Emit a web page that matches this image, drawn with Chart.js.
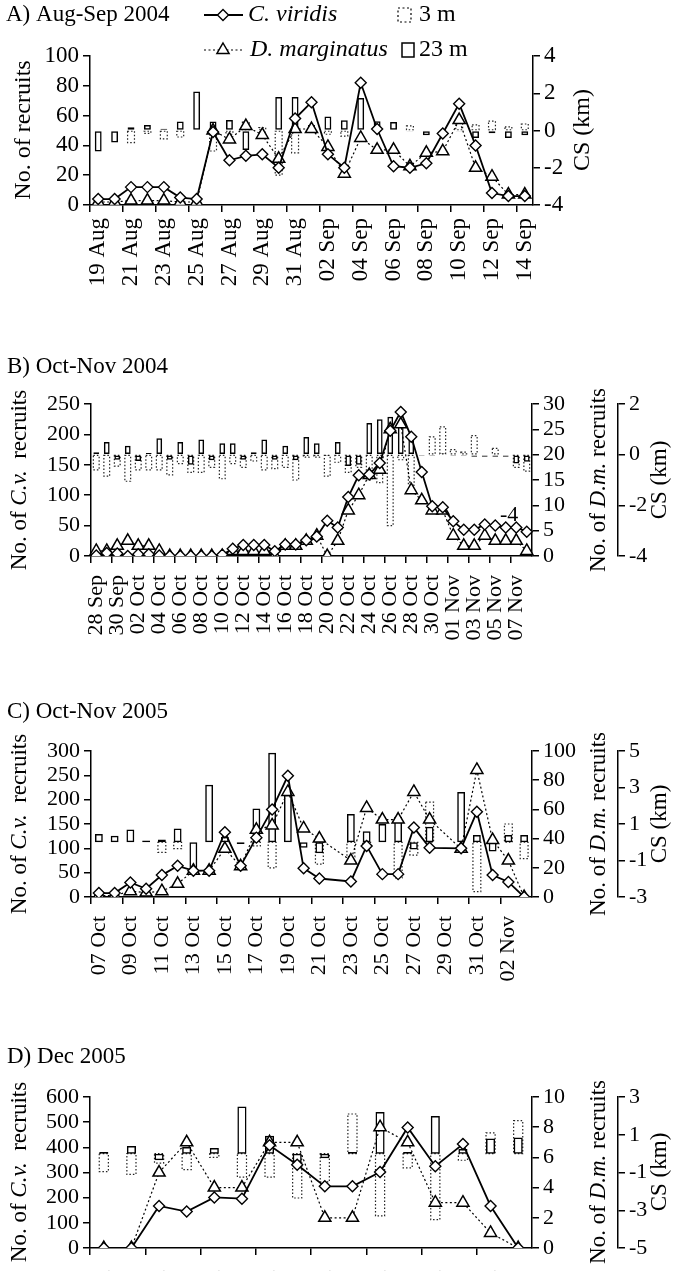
<!DOCTYPE html>
<html lang="en">
<head>
<meta charset="UTF-8">
<title>Recruitment and cross-shelf transport</title>
<script src="https://cdn.jsdelivr.net/npm/chart.js@4.4.0/dist/chart.umd.min.js"></script>
<style>
  html, body { margin: 0; padding: 0; background: #fff; overflow: hidden; }
  canvas { position: absolute; left: 0; }
</style>
</head>
<body>
<canvas id="panelA" style="top:0px" width="675" height="300"></canvas>
<canvas id="panelB" style="top:330px" width="675" height="310"></canvas>
<canvas id="panelC" style="top:680px" width="675" height="320"></canvas>
<canvas id="panelD" style="top:1030px" width="675" height="300"></canvas>
<script>
const SERIF = "'Liberation Serif', 'Times New Roman', serif";
Chart.defaults.font.family = SERIF;
Chart.defaults.font.size = 22;
Chart.defaults.color = '#000';
Chart.defaults.animation = false;

// ---- A) Aug-Sep 2004 ----
const aDates = ['19 Aug','20 Aug','21 Aug','22 Aug','23 Aug','24 Aug','25 Aug','26 Aug','27 Aug','28 Aug',
  '29 Aug','30 Aug','31 Aug','01 Sep','02 Sep','03 Sep','04 Sep','05 Sep','06 Sep','07 Sep','08 Sep',
  '09 Sep','10 Sep','11 Sep','12 Sep','13 Sep','14 Sep'];
const aViridis = [4,4,12,12,12,5,4,49,30,33,34,25,58,69,34,25,82,51,26,25,28,48,68,40,8,6,6];
const aMarginatus = [2,2,3,3,3,2,2,50,44,53,47,31,51,51,39,21,45,37,37,26,35,36,57,25,19,7,7];
const aCs3 = [null,null,-0.65,-0.15,-0.45,-0.35,null,-1.1,-0.2,0.45,0.15,-2.4,-1.2,null,-0.2,-0.3,
  null,null,null,0.25,null,null,0.4,0.3,0.5,0.2,0.35];
const aCs23 = [-1.13,-0.65,0.18,0.3,0.1,0.48,2.1,0.48,0.57,-1.05,-0.2,1.8,1.8,0.3,0.75,0.55,1.75,
  0.5,0.45,-0.05,-0.25,-0.2,-0.05,-0.4,-0.15,-0.4,-0.25];

// ---- B) Oct-Nov 2004 ----
const bDates = ['28 Sep','29 Sep','30 Sep','01 Oct','02 Oct','03 Oct','04 Oct','05 Oct','06 Oct','07 Oct',
  '08 Oct','09 Oct','10 Oct','11 Oct','12 Oct','13 Oct','14 Oct','15 Oct','16 Oct','17 Oct','18 Oct',
  '19 Oct','20 Oct','21 Oct','22 Oct','23 Oct','24 Oct','25 Oct','26 Oct','27 Oct','28 Oct','29 Oct',
  '30 Oct','31 Oct','01 Nov','02 Nov','03 Nov','04 Nov','05 Nov','06 Nov','07 Nov','08 Nov'];
const bViridis = [1,5,4,0,3,3,1,0,0,0,0,0,2,12,18,18,18,8,19,19,26,32,58,47,97,133,134,153,206,237,
  196,138,82,80,57,43,43,52,50,47,47,40];
const bMarginatus = [1,1,2,3,2,2,1,0,0,0,0,0,0,1,1,1,1,0,2,2,3,4,0,3,9,12,16,17,25,26,13,11,9,9,4,2,2,
  4,3,3,3,1];
const bCs3 = [-0.6,-0.85,-0.45,-1.05,-0.6,-0.6,-0.6,-0.8,-0.35,-0.7,-0.7,-0.5,-0.95,-0.35,-0.5,-0.25,
  -0.6,-0.55,-0.5,-1.0,-0.1,-0.1,-0.85,-0.3,-0.7,-0.5,-1.0,-1.1,-2.8,-0.2,-1.2,null,0.7,1.1,0.2,0.1,
  0.75,null,0.25,null,-0.5,-0.65];
const bCs23 = [0.1,0.5,-0.2,0.35,-0.25,0.07,0.65,-0.2,0.5,-0.4,0.6,-0.22,0.45,0.45,-0.2,0.1,0.6,-0.2,
  0.35,-0.22,0.7,0.45,-0.05,0.5,-0.45,-0.4,1.25,1.4,1.5,1.25,0.85,-0.05,-0.05,0.05,-0.05,-0.05,-0.08,
  -0.08,-0.08,-0.08,-0.35,-0.28];

// ---- C) Oct-Nov 2005 (no samples on 22 and 29 Oct) ----
const cDates = ['07 Oct','08 Oct','09 Oct','10 Oct','11 Oct','12 Oct','13 Oct','14 Oct','15 Oct','16 Oct',
  '17 Oct','18 Oct','19 Oct','20 Oct','21 Oct','22 Oct','23 Oct','24 Oct','25 Oct','26 Oct','27 Oct',
  '28 Oct','29 Oct','30 Oct','31 Oct','01 Nov','02 Nov','03 Nov'];
const cViridis = [8,8,30,17,45,64,54,54,133,64,122,180,249,59,38,null,32,105,47,47,143,101,null,100,
  175,45,31,0];
const cMarginatus = [1,1,4,3,4,9,18,18,33,21,46,49,72,47,40,null,25,61,53,53,72,53,null,33,87,39,25,0];
const cCs3 = [null,null,null,null,-0.55,-0.35,null,null,null,null,-0.2,-1.4,null,null,-1.2,null,-0.8,
  -0.3,null,-1.95,-0.7,2.2,null,null,-2.7,null,1.0,-0.9];
const cCs23 = [0.45,0.35,0.7,0.1,0.15,0.75,-1.55,3.15,0.3,-0.1,1.85,4.9,2.6,-0.3,-0.6,null,1.55,0.6,
  1.0,1.4,-0.4,0.85,null,2.75,0.4,-0.5,0.4,0.4];

// ---- D) Dec 2005 ----
const dDates = ['05 Dec','06 Dec','07 Dec','08 Dec','09 Dec','10 Dec','11 Dec','12 Dec','13 Dec',
  '14 Dec','15 Dec','16 Dec','17 Dec','18 Dec','19 Dec','20 Dec'];
const dViridis = [0,0,167,145,201,196,408,331,245,245,302,479,325,413,167,0];
const dMarginatus = [0,0,5,7,4,4,7,7,2,2,8,7,3,3,1,0];
const dCs3 = [-0.95,-1.1,-0.5,-0.85,-0.2,-1.25,-1.25,-2.35,-1.5,2.1,-3.3,-0.75,-3.5,-0.35,1.1,1.75];
const dCs23 = [0.08,0.4,-0.35,0.35,0.3,2.5,0.95,-0.45,-0.25,0.08,2.2,0.08,2.0,0.25,0.8,0.85];

// draws text made of plain/italic pieces, optionally rotated to read upwards
function drawRich(ctx, item) {
  const size = item.size || 23;
  const parts = item.parts.map(p => typeof p === 'string' ? { t: p } : p);
  ctx.save();
  ctx.translate(item.x, item.y);
  if (item.rotate) ctx.rotate(-Math.PI / 2);
  ctx.textBaseline = 'middle';
  ctx.textAlign = 'left';
  ctx.fillStyle = '#000';
  const fonts = parts.map(p => (p.i ? 'italic ' : '') + size + 'px ' + SERIF);
  const widths = parts.map((p, k) => { ctx.font = fonts[k]; return ctx.measureText(p.t).width; });
  let x = item.align === 'left' ? 0 : -widths.reduce((a, b) => a + b, 0) / 2;
  parts.forEach((p, k) => { ctx.font = fonts[k]; ctx.fillText(p.t, x, 0); x += widths[k]; });
  ctx.restore();
}

function diamond(ctx, x, y, r) {
  ctx.beginPath();
  ctx.moveTo(x, y - r); ctx.lineTo(x + r, y); ctx.lineTo(x, y + r); ctx.lineTo(x - r, y);
  ctx.closePath(); ctx.fill(); ctx.stroke();
}
function triangle(ctx, x, y, r) {
  ctx.beginPath();
  ctx.moveTo(x, y - r);
  ctx.lineTo(x + r * 0.866, y + r / 2); ctx.lineTo(x - r * 0.866, y + r / 2);
  ctx.closePath(); ctx.fill(); ctx.stroke();
}

// 3 m bars get a dotted outline, drawn right after their dataset so lines stay on top
const dottedBars = {
  id: 'dottedBars',
  afterDatasetDraw(chart, args) {
    const ds = chart.data.datasets[args.index];
    if (!ds.dotted) return;
    const ctx = chart.ctx;
    ctx.save();
    ctx.strokeStyle = '#222';
    ctx.lineWidth = 1.2;
    ctx.setLineDash([1.5, 2]);
    args.meta.data.forEach((bar, i) => {
      if (ds.data[i] == null) return;
      const p = bar.getProps(['x', 'y', 'base', 'width'], true);
      ctx.strokeRect(p.x - p.width / 2, Math.min(p.y, p.base), p.width, Math.abs(p.base - p.y));
    });
    ctx.restore();
  }
};

// panel title, axis titles and the key
const panelText = {
  id: 'panelText',
  afterDraw(chart, args, opts) {
    const ctx = chart.ctx;
    (opts.items || []).forEach(item => drawRich(ctx, item));
    if (!opts.key) return;
    ctx.save();
    ctx.strokeStyle = '#000';
    ctx.fillStyle = '#fff';
    // C. viridis
    ctx.lineWidth = 1.8;
    ctx.beginPath(); ctx.moveTo(204, 15); ctx.lineTo(243, 15); ctx.stroke();
    ctx.lineWidth = 1.4;
    diamond(ctx, 223, 15, 5.5);
    // D. marginatus
    ctx.lineWidth = 1.2;
    ctx.setLineDash([2, 2.5]);
    ctx.beginPath(); ctx.moveTo(204, 50); ctx.lineTo(243, 50); ctx.stroke();
    ctx.strokeRect(398, 8, 13, 14);
    ctx.setLineDash([]);
    ctx.lineWidth = 1.5;
    triangle(ctx, 223, 50, 7);
    ctx.strokeRect(402, 43, 12, 14);
    ctx.restore();
    drawRich(ctx, { parts: [{ t: 'C. viridis', i: true }], x: 248, y: 15, align: 'left', size: 24 });
    drawRich(ctx, { parts: ['3 m'], x: 419, y: 15, align: 'left', size: 24 });
    drawRich(ctx, { parts: [{ t: 'D. marginatus', i: true }], x: 250, y: 50, align: 'left', size: 24 });
    drawRich(ctx, { parts: ['23 m'], x: 419, y: 50, align: 'left', size: 24 });
  }
};

function axisLook(extra) {
  return Object.assign({
    grid: { drawOnChartArea: false, drawTicks: true, tickLength: 7, lineWidth: 1.5, color: '#000' },
    border: { display: true, color: '#000', width: 1.5 },
  }, extra);
}

function makePanel(id, p) {
  const fontSize = p.font || 22;
  const lineStyle = {
    type: 'line', borderColor: '#000', pointBackgroundColor: '#fff', pointBorderColor: '#000',
    tension: 0, spanGaps: true
  };
  const datasets = [
    Object.assign({}, lineStyle, {
      label: 'C. viridis', data: p.viridis, yAxisID: 'y', order: 0,
      borderWidth: 1.8, pointStyle: 'rectRot', pointRadius: 5.5, pointBorderWidth: 1.4
    }),
    Object.assign({}, lineStyle, {
      label: 'D. marginatus', data: p.marginatus, yAxisID: p.dmAxis ? 'dm' : 'y', order: 1,
      borderWidth: 1.2, borderDash: [2, 2.5], pointStyle: 'triangle', pointRadius: 7, pointBorderWidth: 1.5
    }),
    {
      type: 'bar', label: '23 m', data: p.cs23.map(v => v == null ? null : [0, v]), yAxisID: 'cs', order: 2,
      backgroundColor: 'rgba(0,0,0,0)', borderColor: '#000', borderWidth: 1.5, borderSkipped: false,
      grouped: false, barPercentage: p.barPct, categoryPercentage: 1
    },
    {
      type: 'bar', label: '3 m', data: p.cs3.map(v => v == null ? null : [0, v]), yAxisID: 'cs', order: 3,
      backgroundColor: 'rgba(0,0,0,0)', borderWidth: 0, grouped: false,
      barPercentage: p.barPct, categoryPercentage: 1, dotted: true
    }
  ];

  const yTicks = step => ({ stepSize: step, autoSkip: false, padding: 4, font: { size: fontSize } });
  const scales = {
    x: axisLook({
      type: 'category', offset: true,
      grid: {
        offset: true, drawOnChartArea: false, tickLength: 7, lineWidth: 1.5,
        color: ctx => ctx.index % 2 === 0 ? '#000' : 'rgba(0,0,0,0)'
      },
      ticks: {
        autoSkip: false, maxRotation: 90, minRotation: 90, padding: p.xPad,
        font: { size: fontSize },
        callback: function (v, i) { return i % 2 === 0 ? this.getLabelForValue(v) : ''; }
      },
      afterFit: s => { s.height = p.xHeight; }
    }),
    y: axisLook({
      position: 'left', min: 0, max: p.yMax, ticks: yTicks(p.yStep),
      afterFit: s => { s.width = p.left; }
    })
  };
  if (p.dmAxis) {
    scales.dm = axisLook({
      position: 'right', min: 0, max: p.dmMax, ticks: yTicks(p.dmStep),
      afterFit: s => { s.width = 86; }
    });
  }
  scales.cs = axisLook({
    position: 'right', min: p.csMin, max: p.csMax, ticks: yTicks(2),
    afterFit: s => { s.width = p.csWidth; }
  });

  return new Chart(document.getElementById(id), {
    type: 'bar',
    data: { labels: p.labels, datasets: datasets },
    options: {
      responsive: false,
      devicePixelRatio: 1,
      layout: { padding: { top: p.top, left: 0, right: 0, bottom: 0 } },
      scales: scales,
      plugins: {
        legend: { display: false },
        tooltip: { enabled: false },
        panelText: { items: p.text, key: p.key }
      }
    },
    plugins: [dottedBars, panelText]
  });
}

const cvTitle = ['No. of ', { t: 'C.v.', i: true }, '  recruits'];
const dmTitle = ['No. of ', { t: 'D.m.', i: true }, ' recruits'];

makePanel('panelA', {
  labels: aDates, viridis: aViridis, marginatus: aMarginatus, cs3: aCs3, cs23: aCs23,
  dmAxis: false, yMax: 100, yStep: 20, csMin: -4, csMax: 4, csWidth: 142,
  left: 90, top: 56, xHeight: 95, xPad: 6, barPct: 0.42, key: true, font: 23,
  text: [
    { parts: ['A) Aug-Sep 2004'], x: 6, y: 15, align: 'left', size: 23 },
    { parts: ['No. of recruits'], x: 24, y: 130, rotate: true, size: 24 },
    { parts: ['CS (km)'], x: 583, y: 130, rotate: true, size: 24 }
  ]
});

makePanel('panelB', {
  labels: bDates, viridis: bViridis, marginatus: bMarginatus, cs3: bCs3, cs23: bCs23,
  dmAxis: true, yMax: 250, yStep: 50, dmMax: 30, dmStep: 5, csMin: -4, csMax: 2, csWidth: 57,
  left: 91, top: 74, xHeight: 84, xPad: 12, barPct: 0.55,
  text: [
    { parts: ['B) Oct-Nov 2004'], x: 7, y: 37, align: 'left' },
    { parts: cvTitle, x: 20, y: 150, rotate: true },
    { parts: dmTitle, x: 599, y: 150, rotate: true },
    { parts: ['CS (km)'], x: 660, y: 150, rotate: true },
    { parts: ['-4'], x: 500, y: 185, align: 'left', size: 22 }
  ]
});

makePanel('panelC', {
  labels: cDates, viridis: cViridis, marginatus: cMarginatus, cs3: cCs3, cs23: cCs23,
  dmAxis: true, yMax: 300, yStep: 50, dmMax: 100, dmStep: 20, csMin: -3, csMax: 5, csWidth: 57,
  left: 91, top: 71, xHeight: 103, xPad: 12, barPct: 0.5,
  text: [
    { parts: ['C) Oct-Nov 2005'], x: 7, y: 32, align: 'left' },
    { parts: cvTitle, x: 20, y: 144, rotate: true },
    { parts: dmTitle, x: 599, y: 144, rotate: true },
    { parts: ['CS (km)'], x: 660, y: 144, rotate: true }
  ]
});

makePanel('panelD', {
  labels: dDates, viridis: dViridis, marginatus: dMarginatus, cs3: dCs3, cs23: dCs23,
  dmAxis: true, yMax: 600, yStep: 100, dmMax: 10, dmStep: 2, csMin: -5, csMax: 3, csWidth: 57,
  left: 90, top: 67, xHeight: 82, xPad: 15, barPct: 0.33,
  text: [
    { parts: ['D) Dec 2005'], x: 7, y: 27, align: 'left' },
    { parts: cvTitle, x: 20, y: 142, rotate: true },
    { parts: dmTitle, x: 599, y: 142, rotate: true },
    { parts: ['CS (km)'], x: 660, y: 142, rotate: true }
  ]
});
</script>
</body>
</html>
